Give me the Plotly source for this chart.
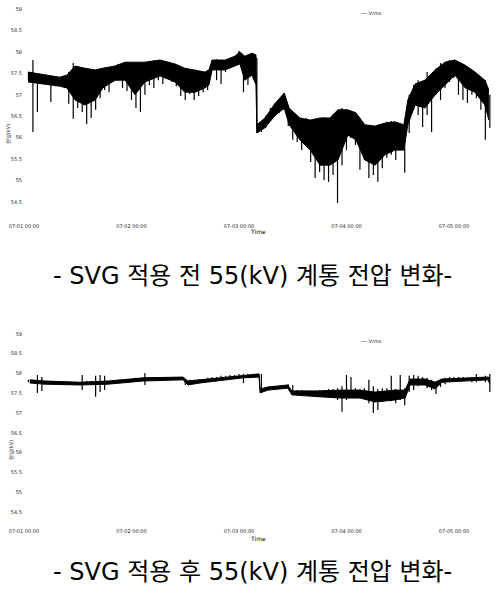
import pandas as pd
import plotly.graph_objects as go

# hourly sampling, start of record
start_time = "2013-07-01 01:00"
origin_time = "2013-07-01 00:00"

# --- before SVG: hourly max / min voltage [kV] (spikes)
before_hi = [57.53, 57.81, 57.48, 57.44, 57.41, 57.41, 57.39, 57.41, 57.44, 57.53,
             57.74, 57.67, 57.62, 57.58, 57.60, 57.53, 57.58, 57.62, 57.65, 57.67,
             57.72, 57.74, 57.76, 57.74, 57.74, 57.72, 57.76, 57.79, 57.81, 57.81,
             57.79, 57.76, 57.72, 57.67, 57.62, 57.58, 57.55, 57.53, 57.48, 57.51,
             57.58, 57.81, 57.83, 57.76, 57.81, 57.86, 57.90, 58.02, 57.88, 57.93,
             57.97, 57.86, 56.32, 56.51, 56.69, 56.79, 56.83, 57.04, 56.76, 56.48,
             56.46, 56.41, 56.46, 56.37, 56.32, 56.46, 56.48, 56.41, 56.55, 56.65,
             56.69, 56.65, 56.60, 56.55, 56.46, 56.30, 56.18, 56.25, 56.30, 56.32,
             56.37, 56.39, 56.32, 56.27, 56.37, 57.00, 57.23, 57.34, 57.27, 57.53,
             57.34, 57.62, 57.74, 57.76, 57.81, 57.81, 57.72, 57.67, 57.62, 57.53,
             57.46, 57.39, 57.34, 57.00]
before_lo = [57.34, 56.13, 56.60, 57.25, 57.23, 56.83, 57.20, 57.23, 57.16, 56.79,
             56.44, 56.69, 56.60, 56.32, 56.46, 56.65, 56.92, 57.11, 57.06, 57.30,
             57.34, 57.16, 57.09, 56.88, 56.69, 56.60, 57.00, 57.23, 57.16, 57.34,
             57.25, 57.39, 57.30, 57.20, 56.97, 56.88, 57.02, 56.88, 56.97, 57.06,
             57.11, 57.62, 57.34, 57.25, 57.53, 57.67, 57.72, 57.76, 57.06, 57.23,
             57.46, 56.11, 56.13, 56.23, 56.41, 56.51, 56.58, 56.65, 56.27, 55.95,
             55.90, 55.71, 55.95, 55.43, 55.06, 55.20, 55.01, 54.97, 55.13, 54.48,
             55.36, 55.71, 55.99, 55.83, 55.25, 55.48, 55.06, 55.13, 54.97, 55.29,
             55.53, 55.60, 55.48, 55.71, 55.18, 56.11, 56.65, 56.53, 56.25, 56.53,
             56.13, 57.00, 56.88, 57.16, 57.30, 57.39, 57.00, 56.88, 56.81, 57.00,
             56.92, 56.65, 55.95, 56.23]

# --- before SVG: dense band (typical upper / lower level) [kV]
before_band_hours = [0.9, 4.7, 8.0, 9.6, 11.4, 13.6, 15.9, 17.6, 20.3, 22.6, 24.8, 27.0,
                     30.4, 33.7, 35.9, 38.2, 40.4, 41.3, 42.0, 44.9, 47.1, 48.2, 49.3,
                     50.9, 51.8, 52.0, 53.8, 56.0, 58.1, 59.2, 61.6, 63.9, 66.1, 68.3,
                     70.1, 72.3, 74.1, 76.1, 78.4, 80.6, 82.8, 84.8, 85.7, 87.3, 89.5,
                     91.8, 94.0, 96.2, 98.5, 100.7, 102.9, 103.8]
before_band_top = [57.53, 57.46, 57.41, 57.46, 57.67, 57.62, 57.58, 57.62, 57.67, 57.76,
                   57.76, 57.76, 57.81, 57.72, 57.62, 57.58, 57.53, 57.58, 57.81, 57.81,
                   57.90, 58.00, 57.90, 57.97, 57.93, 56.30, 56.46, 56.79, 57.04, 56.69,
                   56.46, 56.41, 56.46, 56.46, 56.65, 56.65, 56.58, 56.30, 56.27, 56.34,
                   56.37, 56.30, 56.88, 57.25, 57.34, 57.58, 57.76, 57.81, 57.69, 57.53,
                   57.34, 57.11]
before_band_bot = [57.30, 57.25, 57.20, 57.16, 56.88, 56.76, 56.88, 57.16, 57.34, 57.34,
                   57.00, 57.30, 57.44, 57.30, 57.06, 57.06, 57.16, 57.23, 57.58, 57.58,
                   57.67, 57.72, 57.34, 57.46, 57.23, 56.11, 56.23, 56.51, 56.69, 56.30,
                   55.95, 55.71, 55.36, 55.36, 55.48, 56.06, 55.95, 55.48, 55.36, 55.60,
                   55.71, 55.71, 56.30, 56.76, 56.69, 57.00, 57.23, 57.46, 57.16, 57.06,
                   56.76, 56.41]

# --- after SVG: hourly max / min voltage [kV] (spikes)
after_hi = [57.84, 57.84, 57.96, 57.91, 57.81, 57.81, 57.81, 57.78, 57.78, 57.78,
            57.78, 57.78, 57.96, 57.81, 57.81, 57.94, 57.96, 57.94, 57.81, 57.81,
            57.84, 57.84, 57.86, 57.86, 57.89, 57.89, 58.01, 57.91, 57.91, 57.91,
            57.91, 57.91, 57.91, 57.91, 57.89, 57.86, 57.84, 57.84, 57.86, 57.86,
            57.89, 57.91, 57.91, 57.94, 57.94, 57.96, 57.96, 57.99, 57.99, 57.99,
            57.99, 57.99, 57.99, 57.63, 57.66, 57.68, 57.68, 57.68, 57.73, 57.71,
            57.58, 57.58, 57.56, 57.56, 57.56, 57.58, 57.58, 57.61, 57.61, 57.63,
            57.68, 57.96, 57.91, 57.63, 57.61, 57.63, 57.84, 57.68, 57.61, 57.63,
            57.63, 57.94, 57.61, 57.96, 57.63, 57.94, 57.96, 57.94, 57.91, 57.89,
            57.84, 57.81, 57.86, 57.89, 57.91, 57.91, 57.91, 57.91, 57.89, 57.89,
            57.99, 57.89, 57.94, 57.99]
after_lo = [57.78, 57.76, 57.51, 57.56, 57.76, 57.76, 57.76, 57.76, 57.73, 57.73,
            57.73, 57.73, 57.58, 57.76, 57.76, 57.41, 57.53, 57.58, 57.76, 57.78,
            57.78, 57.78, 57.81, 57.81, 57.84, 57.84, 57.71, 57.84, 57.86, 57.86,
            57.86, 57.86, 57.86, 57.86, 57.84, 57.71, 57.73, 57.76, 57.78, 57.78,
            57.84, 57.86, 57.86, 57.89, 57.89, 57.91, 57.91, 57.94, 57.76, 57.94,
            57.94, 57.94, 57.53, 57.56, 57.61, 57.61, 57.61, 57.63, 57.66, 57.51,
            57.51, 57.48, 57.46, 57.43, 57.43, 57.41, 57.41, 57.38, 57.41, 57.33,
            57.03, 57.33, 57.38, 57.41, 57.38, 57.43, 57.25, 57.00, 57.08, 57.28,
            57.33, 57.30, 57.25, 57.33, 57.20, 57.53, 57.58, 57.68, 57.71, 57.63,
            57.58, 57.48, 57.66, 57.73, 57.78, 57.81, 57.84, 57.81, 57.81, 57.78,
            57.78, 57.81, 57.78, 57.53]

# --- after SVG: dense band (typical upper / lower level) [kV]
after_band_hours = [1.3, 4.7, 12.5, 18.8, 26.6, 35.5, 36.6, 39.3, 48.9, 52.5, 52.7, 54.5,
                    58.9, 59.8, 66.1, 70.6, 75.0, 78.4, 82.8, 85.1, 86.2, 89.5, 91.8,
                    93.3, 103.6, 104.0]
after_band_top = [57.84, 57.81, 57.78, 57.81, 57.89, 57.91, 57.81, 57.84, 57.96, 57.99,
                  57.61, 57.66, 57.71, 57.56, 57.56, 57.58, 57.58, 57.53, 57.58, 57.58,
                  57.86, 57.86, 57.78, 57.86, 57.91, 57.89]
after_band_bot = [57.76, 57.73, 57.71, 57.73, 57.81, 57.84, 57.71, 57.76, 57.89, 57.91,
                  57.51, 57.58, 57.63, 57.46, 57.41, 57.38, 57.38, 57.28, 57.33, 57.38,
                  57.71, 57.71, 57.61, 57.78, 57.84, 57.73]

# axis ticks
x_tick_times = ["2013-07-01 00:00", "2013-07-02 00:00", "2013-07-03 00:00",
                "2013-07-04 00:00", "2013-07-05 00:00", "2013-07-05 08:00"]
x_tick_text = ["07-01 00:00", "07-02 00:00", "07-03 00:00",
               "07-04 00:00", "07-05 00:00", "07-05 08:00"]
y_ticks = [59.0, 58.5, 58.0, 57.5, 57.0, 56.5, 56.0, 55.5, 55.0, 54.5]
y_tick_text = ["59", "58.5", "58", "57.5", "57", "56.5", "56", "55.5", "55", "54.5"]

captions = ["- SVG 적용 전 55(kV) 계통 전압 변화-", "- SVG 적용 후 55(kV) 계통 전압 변화-"]

W, H = 499, 606

times = pd.date_range(start_time, periods=len(before_hi), freq="h")
t0 = pd.Timestamp(origin_time)


def spikes(times, hi, lo):
    xs, ys = [], []
    for t, h, l in zip(times, hi, lo):
        xs += [t, t, None]
        ys += [h, l, None]
    return xs, ys


fig = go.Figure()
series = [
    (before_hi, before_lo, before_band_hours, before_band_top, before_band_bot, "x", "y"),
    (after_hi, after_lo, after_band_hours, after_band_top, after_band_bot, "x2", "y2"),
]
for hi, lo, bh, btop, bbot, xa_, ya_ in series:
    bt = [t0 + pd.Timedelta(hours=h) for h in bh]
    fig.add_trace(go.Scatter(x=bt, y=btop, mode="lines", line=dict(width=1, color="black"),
                             xaxis=xa_, yaxis=ya_, showlegend=False, hoverinfo="skip"))
    fig.add_trace(go.Scatter(x=bt, y=bbot, mode="lines", line=dict(width=1, color="black"),
                             fill="tonexty", fillcolor="black",
                             xaxis=xa_, yaxis=ya_, showlegend=False, hoverinfo="skip"))
    xs, ys = spikes(times, hi, lo)
    fig.add_trace(go.Scatter(x=xs, y=ys, mode="lines", line=dict(color="black", width=1.2),
                             connectgaps=False, xaxis=xa_, yaxis=ya_, name="Vrms",
                             showlegend=False))

tickfont = dict(family="DejaVu Sans", size=5, color="#222")
xrange_ = ["2013-06-30 23:47", "2013-07-05 08:56"]
xdom = [23 / W, 494 / W]


def ydom(top_px, bot_px):
    return [1 - bot_px / H, 1 - top_px / H]


axis_common = dict(showgrid=False, zeroline=False, showline=False, ticks="",
                   tickfont=tickfont, automargin=False)
fig.update_layout(
    template="none",
    width=W, height=H,
    margin=dict(l=0, r=0, t=0, b=0, pad=0),
    paper_bgcolor="white", plot_bgcolor="white",
    xaxis=dict(domain=xdom, range=xrange_, anchor="y", tickvals=x_tick_times,
               ticktext=x_tick_text, **axis_common),
    yaxis=dict(domain=ydom(3, 222), range=[54.034, 59.14], anchor="x",
               tickvals=y_ticks, ticktext=y_tick_text, **axis_common),
    xaxis2=dict(domain=xdom, range=xrange_, anchor="y2", tickvals=x_tick_times,
                ticktext=x_tick_text, **axis_common),
    yaxis2=dict(domain=ydom(328, 527), range=[54.12, 59.15], anchor="x2",
                tickvals=y_ticks, ticktext=y_tick_text, **axis_common),
)

small = dict(family="DejaVu Sans", size=5, color="#222")
ann = []
for ya_pos, yt_x, yt, lg in [(231, 8, 134, 13), (538, 11, 450, 341)]:
    ann.append(dict(text="Time", x=258 / W, y=1 - ya_pos / H, xref="paper", yref="paper",
                    xanchor="center", yanchor="middle", showarrow=False,
                    font=dict(family="DejaVu Sans", size=6, color="black")))
    ann.append(dict(text="전압(kV)", x=yt_x / W, y=1 - yt / H, xref="paper", yref="paper",
                    xanchor="center", yanchor="middle",
                    textangle=-90, showarrow=False, font=small))
    ann.append(dict(text="── Vrms", x=371 / W, y=1 - lg / H, xref="paper", yref="paper",
                    xanchor="center", yanchor="middle", showarrow=False, font=small))
for cap, cy in zip(captions, [276, 572]):
    ann.append(dict(text=cap, x=253 / W, y=1 - cy / H, xref="paper", yref="paper",
                    xanchor="center", yanchor="middle", showarrow=False,
                    font=dict(family="DejaVu Sans, Noto Sans CJK KR", size=24, color="black")))
fig.update_layout(annotations=ann)

fig.write_html("out.html", config={"displayModeBar": False},
               post_script="document.body.style.margin='0';")
